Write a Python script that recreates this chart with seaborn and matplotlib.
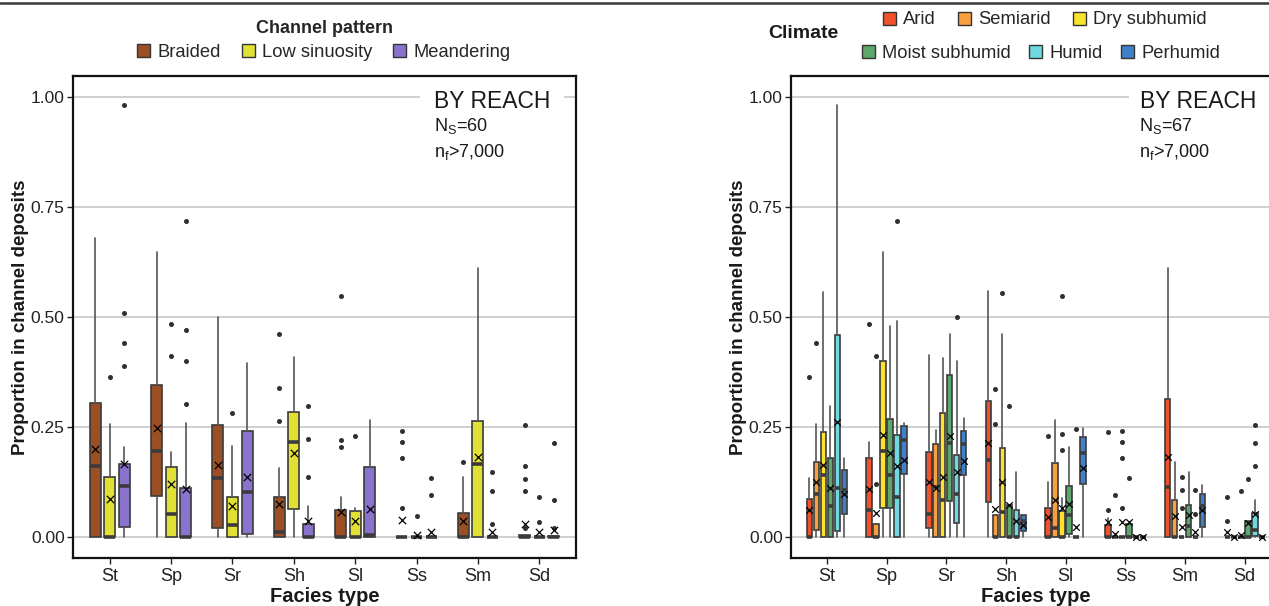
import numpy as np
import pandas as pd
import matplotlib
matplotlib.use("Agg")
import matplotlib.pyplot as plt
import matplotlib.transforms as mtransforms
from matplotlib.patches import Patch
from matplotlib.lines import Line2D
import seaborn as sns

# ---------------- data ----------------
FACIES = ["St", "Sp", "Sr", "Sh", "Sl", "Ss", "Sm", "Sd"]
Y_TICKS = [0.0, 0.25, 0.50, 0.75, 1.00]

PATTERNS = ["Braided", "Low sinuosity", "Meandering"]
PATTERN_COLORS = ["#9C4F25", "#E0E134", "#8A73CC"]

pat_q1 = {
    "Braided":       [0, 0.094, 0.021, 0, 0, 0, 0, 0],
    "Low sinuosity": [0, 0, 0, 0.064, 0, 0, 0, 0],
    "Meandering":    [0.024, 0, 0.008, 0, 0, 0, 0, 0],
}
pat_med = {
    "Braided":       [0.161, 0.196, 0.135, 0.011, 0, 0, 0, 0],
    "Low sinuosity": [0, 0.053, 0.027, 0.216, 0, 0, 0.167, 0],
    "Meandering":    [0.117, 0, 0.102, 0, 0.006, 0, 0, 0],
}
pat_q3 = {
    "Braided":       [0.304, 0.346, 0.256, 0.092, 0.061, 0, 0.056, 0.006],
    "Low sinuosity": [0.137, 0.159, 0.092, 0.285, 0.059, 0, 0.264, 0],
    "Meandering":    [0.166, 0.113, 0.242, 0.030, 0.160, 0, 0, 0.003],
}
pat_whi = {
    "Braided":       [0.680, 0.648, 0.500, 0.157, 0.092, 0, 0.136, 0.006],
    "Low sinuosity": [0.258, 0.193, 0.208, 0.410, 0.067, 0, 0.612, 0],
    "Meandering":    [0.205, 0.260, 0.395, 0.070, 0.267, 0, 0, 0.003],
}
pat_mean = {
    "Braided":       [0.200, 0.247, 0.165, 0.076, 0.057, 0.039, 0.036, 0.030],
    "Low sinuosity": [0.087, 0.122, 0.070, 0.191, 0.036, 0.005, 0.182, 0.011],
    "Meandering":    [0.167, 0.110, 0.137, 0.036, 0.064, 0.011, 0.013, 0.016],
}
pat_fliers = {
    "Braided":       [[], [], [], [0.461, 0.339, 0.264], [0.547, 0.220, 0.206],
                      [0.241, 0.217, 0.181, 0.066], [0.171], [0.255, 0.161, 0.133, 0.105, 0.021]],
    "Low sinuosity": [[0.363], [0.483, 0.412], [0.282], [], [0.229], [0.048], [], [0.091, 0.035]],
    "Meandering":    [[0.982, 0.508, 0.442, 0.388], [0.717, 0.471, 0.400, 0.302], [],
                      [0.298, 0.223, 0.136], [], [0.134, 0.095], [0.149, 0.106, 0.030], [0.215, 0.085, 0.020]],
}

CLIMATES = ["Arid", "Semiarid", "Dry subhumid", "Moist subhumid", "Humid", "Perhumid"]
CLIMATE_COLORS = ["#EE512B", "#F8A03F", "#FBE22C", "#5EA76C", "#70D8E0", "#3F80C8"]

cli_q1 = {
    "Arid":           [0, 0, 0.021, 0.080, 0, 0, 0, 0],
    "Semiarid":       [0.016, 0, 0, 0, 0, 0, 0, 0],
    "Dry subhumid":   [0, 0.067, 0, 0, 0, 0, 0, 0],
    "Moist subhumid": [0, 0.067, 0.083, 0, 0.008, 0, 0, 0],
    "Humid":          [0.014, 0, 0.033, 0, 0, 0, 0, 0.002],
    "Perhumid":       [0.053, 0.143, 0.142, 0.015, 0.121, 0, 0.023, 0],
}
cli_med = {
    "Arid":           [0, 0.061, 0.052, 0.176, 0, 0, 0.114, 0],
    "Semiarid":       [0.098, 0, 0.114, 0, 0.021, 0, 0, 0],
    "Dry subhumid":   [0.142, 0.195, 0.085, 0.057, 0, 0, 0, 0],
    "Moist subhumid": [0.072, 0.142, 0.215, 0, 0.050, 0, 0.025, 0],
    "Humid":          [0.112, 0.092, 0.098, 0, 0, 0, 0, 0.016],
    "Perhumid":       [0.108, 0.220, 0.211, 0.038, 0.191, 0, 0.070, 0],
}
cli_q3 = {
    "Arid":           [0.086, 0.181, 0.194, 0.309, 0.067, 0.027, 0.314, 0],
    "Semiarid":       [0.171, 0.031, 0.211, 0.051, 0.169, 0, 0.084, 0],
    "Dry subhumid":   [0.239, 0.401, 0.283, 0.203, 0.059, 0, 0, 0],
    "Moist subhumid": [0.180, 0.269, 0.369, 0.074, 0.116, 0.030, 0.074, 0.036],
    "Humid":          [0.460, 0.232, 0.187, 0.061, 0, 0, 0, 0.055],
    "Perhumid":       [0.152, 0.253, 0.241, 0.050, 0.227, 0, 0.099, 0],
}
cli_whi = {
    "Arid":           [0.134, 0.216, 0.413, 0.559, 0.126, 0.043, 0.612, 0],
    "Semiarid":       [0.258, 0.031, 0.243, 0.051, 0.267, 0, 0.171, 0],
    "Dry subhumid":   [0.557, 0.648, 0.408, 0.461, 0.089, 0, 0, 0],
    "Moist subhumid": [0.299, 0.480, 0.462, 0.074, 0.205, 0.030, 0.149, 0.036],
    "Humid":          [0.981, 0.492, 0.401, 0.148, 0, 0, 0, 0.084],
    "Perhumid":       [0.180, 0.259, 0.270, 0.050, 0.248, 0, 0.119, 0],
}
cli_mean = {
    "Arid":           [0.061, 0.110, 0.126, 0.215, 0.047, 0.035, 0.183, 0.011],
    "Semiarid":       [0.125, 0.055, 0.111, 0.065, 0.084, 0.008, 0.048, 0.001],
    "Dry subhumid":   [0.163, 0.232, 0.136, 0.126, 0.067, 0.035, 0.023, 0.006],
    "Moist subhumid": [0.111, 0.192, 0.231, 0.074, 0.076, 0.034, 0.051, 0.033],
    "Humid":          [0.261, 0.161, 0.149, 0.036, 0.023, 0.001, 0.011, 0.053],
    "Perhumid":       [0.099, 0.176, 0.174, 0.027, 0.158, 0.001, 0.061, 0.001],
}
cli_fliers = {
    "Arid":           [[0.364], [0.483], [], [], [0.229], [0.239, 0.063], [], [0.091, 0.036]],
    "Semiarid":       [[0.442], [0.412, 0.120], [], [0.336, 0.258], [], [0.095], [], []],
    "Dry subhumid":   [[], [], [], [0.555], [0.547, 0.235, 0.198], [0.241, 0.217, 0.181, 0.067],
                       [0.136, 0.108, 0.067], [0.105]],
    "Moist subhumid": [[], [], [], [0.298], [], [0.134], [], [0.133]],
    "Humid":          [[], [0.717], [0.500], [], [0.245], [], [0.107, 0.052], [0.255, 0.214, 0.161]],
    "Perhumid":       [[], [], [], [], [], [], [], []],
}

# ---------------- style ----------------
sns.set_theme(style="white")
plt.rcParams["font.family"] = ["Liberation Sans", "DejaVu Sans"]
plt.rcParams["mathtext.fontset"] = "custom"
plt.rcParams["mathtext.rm"] = "Liberation Sans"

W, H = 1269, 606
fig = plt.figure(figsize=(W / 100, H / 100), dpi=100)

EDGE = "#3b3b3b"


def px_axes(x0, x1, ytop, ybot):
    return fig.add_axes([x0 / W, (H - ybot) / H, (x1 - x0) / W, (ybot - ytop) / H])


def draw_panel(ax, groups, colors, q1, med, q3, whi, mean, fliers, step, width, msize):
    n = len(groups)
    flier_rows, mean_rows = [], []
    for j, g in enumerate(groups):
        off = (j - (n - 1) / 2) * step
        stats, pos = [], []
        for i, fac in enumerate(FACIES):
            stats.append(dict(med=med[g][i], q1=q1[g][i], q3=q3[g][i],
                              whislo=0.0, whishi=whi[g][i], fliers=[]))
            pos.append(i + off)
            for v in fliers[g][i]:
                flier_rows.append({"pos": i + off, "value": v})
            mean_rows.append({"pos": i + off, "value": mean[g][i]})
        ax.bxp(stats, positions=pos, widths=width, patch_artist=True,
               showfliers=False, showcaps=False, manage_ticks=False,
               boxprops=dict(facecolor=colors[j], edgecolor=EDGE, linewidth=1.2),
               medianprops=dict(color=EDGE, linewidth=2.6, solid_capstyle="butt"),
               whiskerprops=dict(color="#555555", linewidth=1.2))
    fdf = pd.DataFrame(flier_rows)
    mdf = pd.DataFrame(mean_rows)
    sns.scatterplot(data=fdf, x="pos", y="value", ax=ax, color="#303030", s=13,
                    linewidth=0, legend=False, zorder=4)
    sns.scatterplot(data=mdf, x="pos", y="value", ax=ax, color="black", marker="x",
                    s=msize, linewidth=0.9, legend=False, zorder=5)

    ax.set_xlim(-0.6, 7.6)
    ax.set_ylim(-0.047, 1.047)
    ax.set_yticks(Y_TICKS)
    ax.set_yticklabels([f"{v:.2f}" for v in Y_TICKS])
    ax.set_xticks(range(len(FACIES)))
    ax.set_xticklabels(FACIES)
    ax.yaxis.grid(True, color="#c4c4c4", linewidth=1.1)
    ax.xaxis.grid(False)
    ax.set_axisbelow(True)
    for s in ax.spines.values():
        s.set_color("#111111")
        s.set_linewidth(1.6)
    ax.tick_params(axis="both", which="major", direction="out", length=4, width=1,
                   color="#333333", bottom=True, left=True)
    ax.tick_params(axis="x", labelsize=13, pad=3, colors="#222222")
    ax.tick_params(axis="y", labelsize=12.5, pad=2, colors="#222222")
    ax.set_xlabel("Facies type", fontsize=14.5, fontweight="bold", labelpad=2, color="#1a1a1a")
    ax.set_ylabel("Proportion in channel deposits", fontsize=13.5, fontweight="bold",
                  labelpad=1, color="#1a1a1a")

    trans = mtransforms.blended_transform_factory(ax.transAxes, ax.transData)
    # white gap in the 1.00 gridline behind the label
    ax.plot([0.69, 0.977], [1.0, 1.0], transform=trans, color="white", linewidth=3,
            solid_capstyle="butt", zorder=1)
    ax.text(0.95, 0.99, "BY REACH", transform=trans, ha="right", va="center",
            fontsize=16.5, color="#1a1a1a", zorder=6)


axL = px_axes(73, 576, 76, 558)
draw_panel(axL, PATTERNS, PATTERN_COLORS, pat_q1, pat_med, pat_q3, pat_whi, pat_mean,
           pat_fliers, step=0.237, width=0.18, msize=28)
axL.text(0.718, 0.897, "N$_\\mathregular{S}$=60", transform=axL.transAxes, ha="left",
         va="center", fontsize=13, color="#1a1a1a")
axL.text(0.718, 0.843, "n$_\\mathregular{f}$>7,000", transform=axL.transAxes, ha="left",
         va="center", fontsize=13, color="#1a1a1a")

axR = px_axes(791, 791 + 8.2 * 59.7, 76, 558)
draw_panel(axR, CLIMATES, CLIMATE_COLORS, cli_q1, cli_med, cli_q3, cli_whi, cli_mean,
           cli_fliers, step=0.117, width=0.092, msize=22)
axR.text(0.711, 0.897, "N$_\\mathregular{S}$=67", transform=axR.transAxes, ha="left",
         va="center", fontsize=13, color="#1a1a1a")
axR.text(0.711, 0.843, "n$_\\mathregular{f}$>7,000", transform=axR.transAxes, ha="left",
         va="center", fontsize=13, color="#1a1a1a")

# ---------------- legends ----------------
def patches(labels, colors):
    return [Patch(facecolor=c, edgecolor="#333333", linewidth=1.0, label=l)
            for l, c in zip(labels, colors)]


legkw = dict(frameon=False, handlelength=0.7, handleheight=0.7, handletextpad=0.4,
             fontsize=13.2, borderaxespad=0, borderpad=0)

legL = fig.legend(handles=patches(PATTERNS, PATTERN_COLORS), ncol=3, loc="upper center",
                  bbox_to_anchor=(324 / W, 1 - 20 / H), columnspacing=1.15,
                  title="Channel pattern", title_fontproperties={"weight": "bold", "size": 13},
                  **legkw)
legL._legend_box.sep = 5

row1 = fig.legend(handles=patches(CLIMATES[:3], CLIMATE_COLORS[:3]), ncol=3,
                  loc="center", bbox_to_anchor=(1045 / W, 1 - 20 / H), columnspacing=1.2,
                  **legkw)
row2 = fig.legend(handles=patches(CLIMATES[3:], CLIMATE_COLORS[3:]), ncol=3,
                  loc="center", bbox_to_anchor=(1041 / W, 1 - 53 / H), columnspacing=1.0,
                  **legkw)
fig.text(803 / W, 1 - 33 / H, "Climate", ha="center", va="center", fontsize=14,
         fontweight="bold", color="#1a1a1a")

fig.add_artist(Line2D([0, 1], [1 - 3 / H, 1 - 3 / H], transform=fig.transFigure,
                      color="#3a3a3a", linewidth=1.8))

fig.savefig("out.png", dpi=100)
